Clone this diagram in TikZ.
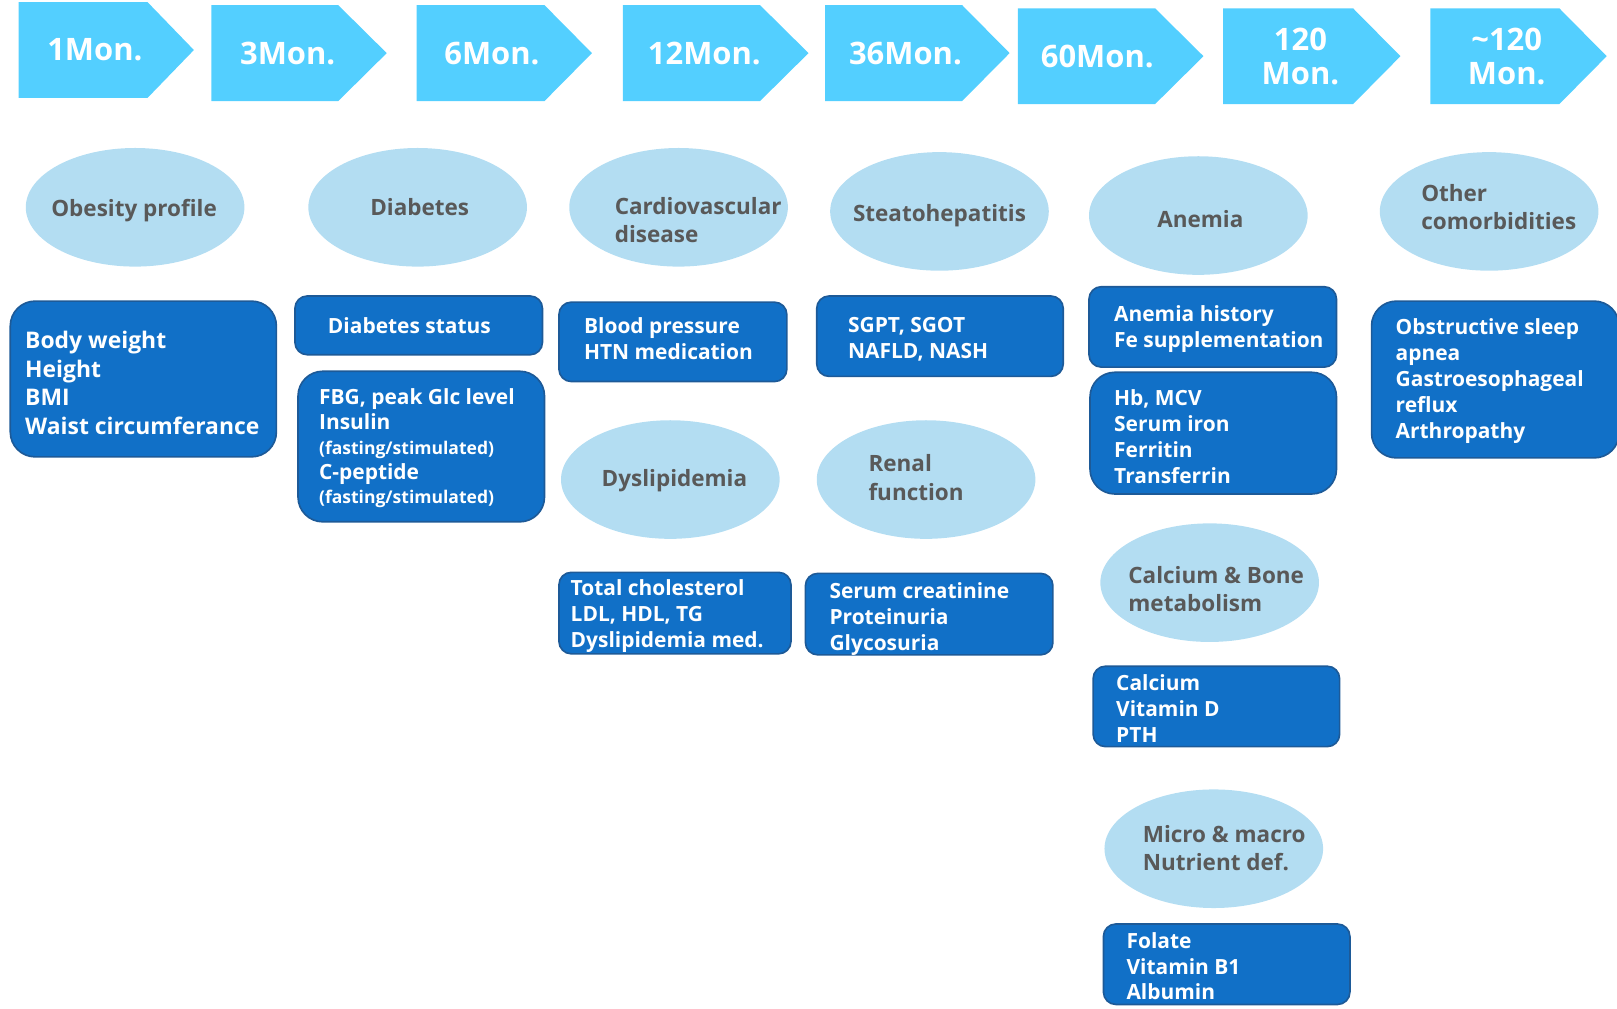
\documentclass[tikz,border=0pt]{standalone}
\usepackage{fontspec}
\setmainfont{Open Sans}
\usetikzlibrary{shapes.geometric}
\definecolor{chevc}{HTML}{53CFFF}
\definecolor{ellc}{HTML}{B3DDF2}
\definecolor{elltxt}{HTML}{595959}
\definecolor{boxc}{HTML}{1170C7}
\definecolor{boxb}{HTML}{1D5A98}
\tikzset{
  chev/.style={fill=chevc},
  chevtxt/.style={text=white, font=\bfseries\fontsize{30}{33}\selectfont, align=center, inner sep=0},
  ell/.style={ellipse, fill=ellc, minimum width=212, minimum height=115, inner sep=0},
  elltext/.style={text=elltxt, font=\bfseries\fontsize{21.8}{27.5}\selectfont, align=left, inner sep=0},
  box/.style={draw=boxb, line width=1.6pt, fill=boxc, rounded corners=12, inner sep=0},
  bigbox/.style={box, rounded corners=24},
  btxt/.style={text=white, font=\bfseries\fontsize{20.3}{25}\selectfont, align=left, inner sep=0},
}
\newcommand{\smallfs}{\fontsize{17}{23}\selectfont}
\begin{document}
\begin{tikzpicture}[x=1pt,y=-1pt]
\useasboundingbox (0,0) rectangle (1568,978);
% chevrons
\fill[chev] (18,2) -- (143,2) -- (188,48.5) -- (143,95) -- (18,95) -- cycle;
\fill[chev] (205,5) -- (328,5) -- (375,51.5) -- (328,98) -- (205,98) -- cycle;
\fill[chev] (404,5) -- (528,5) -- (574,51.5) -- (528,98) -- (404,98) -- cycle;
\fill[chev] (604,5) -- (737,5) -- (784,51.5) -- (737,98) -- (604,98) -- cycle;
\fill[chev] (800,5) -- (933,5) -- (979,51.5) -- (933,98) -- (800,98) -- cycle;
\fill[chev] (987,8) -- (1120,8) -- (1167,54.5) -- (1120,101) -- (987,101) -- cycle;
\fill[chev] (1186,8) -- (1312,8) -- (1358,54.5) -- (1312,101) -- (1186,101) -- cycle;
\fill[chev] (1387,8) -- (1512,8) -- (1558,54.5) -- (1512,101) -- (1387,101) -- cycle;
\node[chevtxt] (m1) at (92,48) {1Mon.};
\node[chevtxt] (m3) at (279,52) {3Mon.};
\node[chevtxt] (m6) at (477,52) {6Mon.};
\node[chevtxt] (m12) at (683,52) {12Mon.};
\node[chevtxt] (m36) at (878,52) {36Mon.};
\node[chevtxt] (m60) at (1064,55) {60Mon.};
\node[chevtxt] (m120) at (1261,54.5) {120\\Mon.};
\node[chevtxt] (m120p) at (1461,54.5) {\textasciitilde 120\\Mon.};
% ellipses
\node[ell] (e1) at (131,201) {};
\node[ell] (e2) at (405,201) {};
\node[ell] (e3) at (658,201) {};
\node[ell] (e4) at (911,205) {};
\node[ell] (e5) at (1162,209) {};
\node[ell] (e6) at (1444,205) {};
\node[ell] (e7) at (650,465) {};
\node[ell] (e8) at (898,465) {};
\node[ell] (e9) at (1173,565) {};
\node[ell] (e10) at (1177,823) {};
\node[elltext] (et1) at (130,204) {Obesity profile};
\node[elltext] (et2) at (407,201) {Diabetes};
\node[elltext, anchor=west] (et3) at (596,213.5) {Cardiovascular\\disease};
\node[elltext] (et4) at (911,209) {Steatohepatitis};
\node[elltext] (et5) at (1164,212) {Anemia};
\node[elltext, anchor=west] (et6) at (1378,201) {Other\\comorbidities};
\node[elltext] (et7) at (654,466) {Dyslipidemia};
\node[elltext, anchor=west] (et8) at (842,463) {Renal\\function};
\node[elltext, anchor=west] (et9) at (1094,571) {Calcium \& Bone\\metabolism};
\node[elltext, anchor=west] (et10) at (1108,822.5) {Micro \& macro\\Nutrient def.};
% boxes
\node[bigbox, minimum width=258, minimum height=151] (b1) at (139,367.5) {};
\node[box, minimum width=240, minimum height=57] (b2) at (406,315.5) {};
\node[bigbox, minimum width=239, minimum height=146] (b3) at (408.5,433) {};
\node[box, minimum width=221, minimum height=77] (b4) at (652.5,331.5) {};
\node[box, minimum width=239, minimum height=78] (b5) at (911.5,326) {};
\node[box, minimum width=240, minimum height=78] (b6) at (1176,317) {};
\node[bigbox, minimum width=239, minimum height=118] (b7) at (1176.5,420) {};
\node[bigbox, minimum width=240, minimum height=152] (b8) at (1450,368) {};
\node[box, minimum width=225, minimum height=79] (b9) at (654.5,594.5) {};
\node[box, minimum width=240, minimum height=79] (b10) at (901,595.5) {};
\node[box, minimum width=239, minimum height=78] (b11) at (1179.5,685) {};
\node[box, minimum width=239, minimum height=78] (b12) at (1189.5,935) {};
\node[btxt, font=\bfseries\fontsize{22.2}{27.7}\selectfont, anchor=west] (bt1) at ([xshift=15,yshift=-4]b1.west) {Body weight\\Height\\BMI\\Waist circumferance};
\node[btxt] (bt2) at (397,316) {Diabetes status};
\node[btxt, font=\bfseries\fontsize{20.3}{24}\selectfont, anchor=west] (bt3) at ([xshift=21,yshift=-2]b3.west) {FBG, peak Glc level\\Insulin\\{\smallfs(fasting/stimulated)}\\C-peptide\\{\smallfs(fasting/stimulated)}};
\node[btxt, anchor=west] (bt4) at ([xshift=25,yshift=3]b4.west) {Blood pressure\\HTN medication};
\node[btxt, anchor=west] (bt5) at ([xshift=31,yshift=-3]b5.west) {SGPT, SGOT\\NAFLD, NASH};
\node[btxt, anchor=west] (bt6) at ([xshift=25,yshift=-2]b6.west) {Anemia history\\Fe supplementation};
\node[btxt, anchor=west] (bt7) at ([xshift=24,yshift=-3.5]b7.west) {Hb, MCV\\Serum iron\\Ferritin\\Transferrin};
\node[btxt, anchor=west] (bt8) at ([xshift=24,yshift=-1.5]b8.west) {Obstructive sleep\\apnea\\Gastroesophageal\\reflux\\Arthropathy};
\node[btxt, anchor=west] (bt9) at ([xshift=12,yshift=-3]b9.west) {Total cholesterol\\LDL, HDL, TG\\Dyslipidemia med.};
\node[btxt, anchor=west] (bt10) at ([xshift=24,yshift=-5]b10.west) {Serum creatinine\\Proteinuria\\Glycosuria};
\node[btxt, anchor=west] (bt11) at ([xshift=23,yshift=-2]b11.west) {Calcium\\Vitamin D\\PTH};
\node[btxt, anchor=west] (bt12) at ([xshift=23,yshift=-2]b12.west) {Folate\\Vitamin B1\\Albumin};
\end{tikzpicture}
\end{document}
